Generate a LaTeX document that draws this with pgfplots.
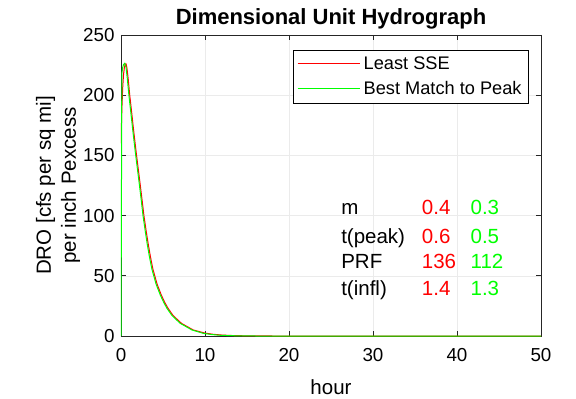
\documentclass[border=0pt]{standalone}
\usepackage{fontspec}
\setmainfont{Liberation Sans}
\usepackage{pgfplots}
\pgfplotsset{compat=1.18}
\definecolor{axgray}{gray}{0.15}
\definecolor{mred}{rgb}{1,0,0}
\definecolor{mgreen}{rgb}{0,1,0}
\begin{document}
\begin{tikzpicture}
\useasboundingbox (-121pt,-63pt) rectangle (455pt,336pt);
\begin{axis}[
  at={(0,0)}, anchor=south west,
  scale only axis, width=420pt, height=301pt,
  xmin=0, xmax=50, ymin=0, ymax=250,
  xtick={0,10,...,50}, ytick={0,50,...,250},
  tick align=inside, major tick length=5pt,
  grid=major, major grid style={black!8, line width=0.5pt},
  axis line style={axgray, line width=0.8pt},
  tick style={axgray, line width=0.8pt},
  /pgf/number format/assume math mode=true,
  ticklabel style={font=\fontsize{18.8}{20}\selectfont},
  xticklabel style={yshift=-8.8pt},
  yticklabel style={xshift=-3pt},
  title={\textbf{Dimensional Unit Hydrograph}},
  title style={font=\fontsize{22}{24}\selectfont, anchor=base, yshift=4.5pt},
  xlabel={hour},
  xlabel style={font=\fontsize{20.5}{24}\selectfont, at={(axis description cs:0.5,0)}, anchor=base, yshift=-58pt},
  ylabel={DRO [cfs per sq mi]\\per inch Pexcess},
  ylabel style={font=\fontsize{20.5}{25}\selectfont, align=center, at={(axis description cs:-0.097,0.5)}, anchor=south, inner sep=0pt},
  legend style={at={(0.971,0.95)}, anchor=north east, draw, line width=0.6pt,
    font=\fontsize{18.2}{20}\selectfont, inner xsep=4pt, inner ysep=4.2pt,
    nodes={inner xsep=3pt, inner ysep=2.6pt}, row sep=5.2pt, column sep=1pt},
  legend cell align=left,
]
\addplot[color=mred, line width=1pt,
  legend image code/.code={\node[inner sep=0pt, anchor=west] at (0pt,0pt) {\textcolor{mred}{\rule[-0.6pt]{62pt}{1.2pt}}};}] coordinates {
(0,160) (0.1,188) (0.2,206) (0.3,217) (0.4,223) (0.5,226) (0.6,226) (0.7,223)
(0.85,214) (1.04,200) (1.25,187) (1.5,171) (1.8,153) (2.05,139) (2.3,125) (2.5,113.5) (2.73,100)
(3.0,87) (3.25,76) (3.5,66) (3.8,55.5) (4.3,43) (4.8,34) (5.2,28) (5.6,23) (6.2,17) (7.2,10.5) (8.6,5)
(10,2.4) (11,1.4) (12,0.8) (13,0.45) (14,0.25) (16,0.05) (18,0) (50,0)
};
\addlegendentry{Least SSE}
\addplot[color=mgreen, line width=1pt,
  legend image code/.code={\node[inner sep=0pt, anchor=west] at (0pt,0pt) {\textcolor{mgreen}{\rule[-0.6pt]{62pt}{1.2pt}}};}] coordinates {
(0,0) (0.1,218) (0.2,223) (0.3,225.5) (0.45,226.5) (0.6,223) (0.75,214)
(0.94,200) (1.15,187) (1.4,171) (1.7,153) (1.95,139) (2.2,125) (2.4,113.5) (2.62,100)
(2.89,87) (3.13,76) (3.38,66) (3.68,55.5) (4.18,43) (4.68,34) (5.08,28) (5.47,23) (6.07,17) (7.05,10.5) (8.45,5)
(9.8,2.2) (10.8,1.2) (11.8,0.6) (13,0.3) (14,0.1) (16,0) (50,0)
};
\addlegendentry{Best Match to Peak}
\begin{scope}[every node/.style={anchor=base west, inner sep=0pt, font=\fontsize{20.5}{24}\selectfont}]
\node at (axis cs:26.2,100.5) {m};
\node at (axis cs:26.2,77) {t(peak)};
\node at (axis cs:26.2,56.2) {PRF};
\node at (axis cs:26.2,34) {t(infl)};
\node[text=mred] at (axis cs:35.8,100.5) {0.4};
\node[text=mred] at (axis cs:35.8,77) {0.6};
\node[text=mred] at (axis cs:35.8,56.2) {136};
\node[text=mred] at (axis cs:35.8,34) {1.4};
\node[text=mgreen] at (axis cs:41.6,100.5) {0.3};
\node[text=mgreen] at (axis cs:41.6,77) {0.5};
\node[text=mgreen] at (axis cs:41.6,56.2) {112};
\node[text=mgreen] at (axis cs:41.6,34) {1.3};
\end{scope}
\end{axis}
\end{tikzpicture}
\end{document}
